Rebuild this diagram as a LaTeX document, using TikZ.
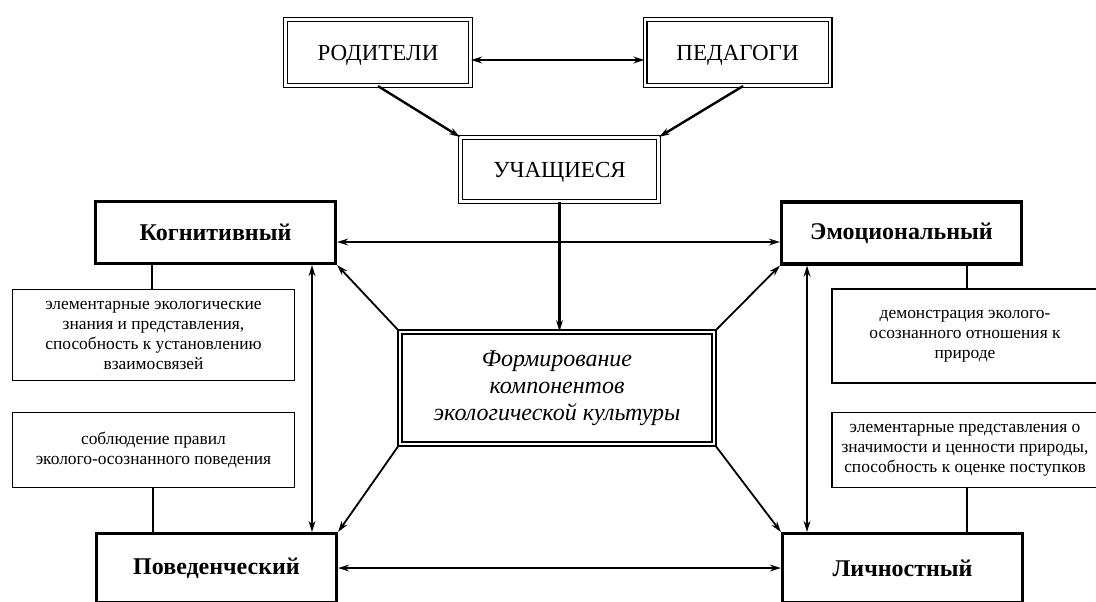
\documentclass[tikz,border=0pt]{standalone}
\usepackage{fontspec}
\setmainfont{Liberation Serif}
\usetikzlibrary{arrows.meta}

\begin{document}
\begin{tikzpicture}[x=0.5pt,y=-0.5pt,>={Stealth[length=5.5pt,width=3.4pt]},line width=0.9pt]

	\tikzstyle{top}  = [rectangle, draw, double, double distance=1.3pt, line width=0.6pt, minimum width=92.5pt, minimum height=33pt, font=\fontsize{11.5}{13}\selectfont]
	\tikzstyle{form} = [rectangle, draw, double, double distance=1.2pt, line width=0.8pt, minimum width=157pt, minimum height=56pt, align=center, font=\itshape\fontsize{12}{13.5}\selectfont]
	\tikzstyle{comp} = [rectangle, draw, line width=1.6pt, minimum width=120pt, minimum height=31pt, font=\bfseries\fontsize{12}{14}\selectfont]
	\tikzstyle{txt}  = [rectangle, draw, line width=0.6pt, minimum width=141pt, align=center, font=\fontsize{8.7}{10}\selectfont]

	\useasboundingbox (0,0) rectangle (1096,601);
	\clip (0,0) rectangle (1096,601);

	% upper level
	\node [top, text depth=-0.8pt] (rod) at (378,52.5) {РОДИТЕЛИ};
	\node [top, text depth=-0.8pt] (ped) at (737.5,52.5) {ПЕДАГОГИ};
	\node [top, text depth=-0.8pt, minimum width=99pt, minimum height=32pt] (uch) at (559.5,169.5) {УЧАЩИЕСЯ};

	\node [form] (cen) at (557,388) {Формирование\\компонентов\\экологической культуры};

	% components
	\node [comp] (kog) at (215.5,232.5) {Когнитивный};
	\node [comp] (emo) at (901.5,233) {Эмоциональный};
	\node [comp, minimum height=34.4pt] (pov) at (216.5,568) {Поведенческий};
	\node [comp, minimum height=34.4pt] (lich) at (902.5,568) {Личностный};

	\node [txt, minimum height=45.5pt] (t1) at (153.5,335) {элементарные экологические\\знания и представления,\\способность к установлению\\взаимосвязей};
	\node [txt, minimum height=37.5pt] (t2) at (153.5,450) {соблюдение правил\\эколого-осознанного поведения};
	\node [txt, minimum width=133pt, minimum height=47pt] (t3) at (965,336) {демонстрация эколого-\\осознанного отношения к\\природе};
	\node [txt, minimum width=133pt, minimum height=37.5pt] (t4) at (965,450) {элементарные представления о\\значимости и ценности природы,\\способность к оценке поступков};

	% arrows
	\draw [<->] ([yshift=-3.75pt]rod.east) -- ([yshift=-3.75pt]ped.west);
	\draw [->, line width=1.2pt] (rod.south) -- (uch.north west);
	\draw [->, line width=1.2pt] ([xshift=2.75pt]ped.south) -- (uch.north east);
	\draw [->, line width=1.2pt] (uch.south) -- (uch.south |- cen.north);

	\draw [<->] ([yshift=-4.75pt]kog.east) -- ([yshift=-4.75pt]kog.east -| emo.west);
	\draw [<->] (pov.east) -- (lich.west);
	\draw [<->] ([xshift=48.25pt]kog.south) -- ([xshift=48.25pt]kog.south |- pov.north);
	\draw [<->] ([xshift=-47.25pt]emo.south) -- ([xshift=-47.25pt]emo.south |- lich.north);

	\draw [->] (cen.north west) -- (kog.south east);
	\draw [->] (cen.north east) -- (emo.south west);
	\draw [->] (cen.south west) -- (pov.north east);
	\draw [->] (cen.south east) -- (lich.north west);

	% lines to the texts
	\draw [line width=0.6pt] ([xshift=-31.75pt]kog.south) -- ([xshift=-31.75pt]kog.south |- t1.north);
	\draw [line width=0.6pt] ([xshift=-31.75pt]pov.north) -- ([xshift=-31.75pt]pov.north |- t2.south);
	\draw [line width=0.6pt] ([xshift=32.75pt]emo.south) -- ([xshift=32.75pt]emo.south |- t3.north);
	\draw [line width=0.6pt] ([xshift=32.25pt]lich.north) -- ([xshift=32.25pt]lich.north |- t4.south);

\end{tikzpicture}
\end{document}
